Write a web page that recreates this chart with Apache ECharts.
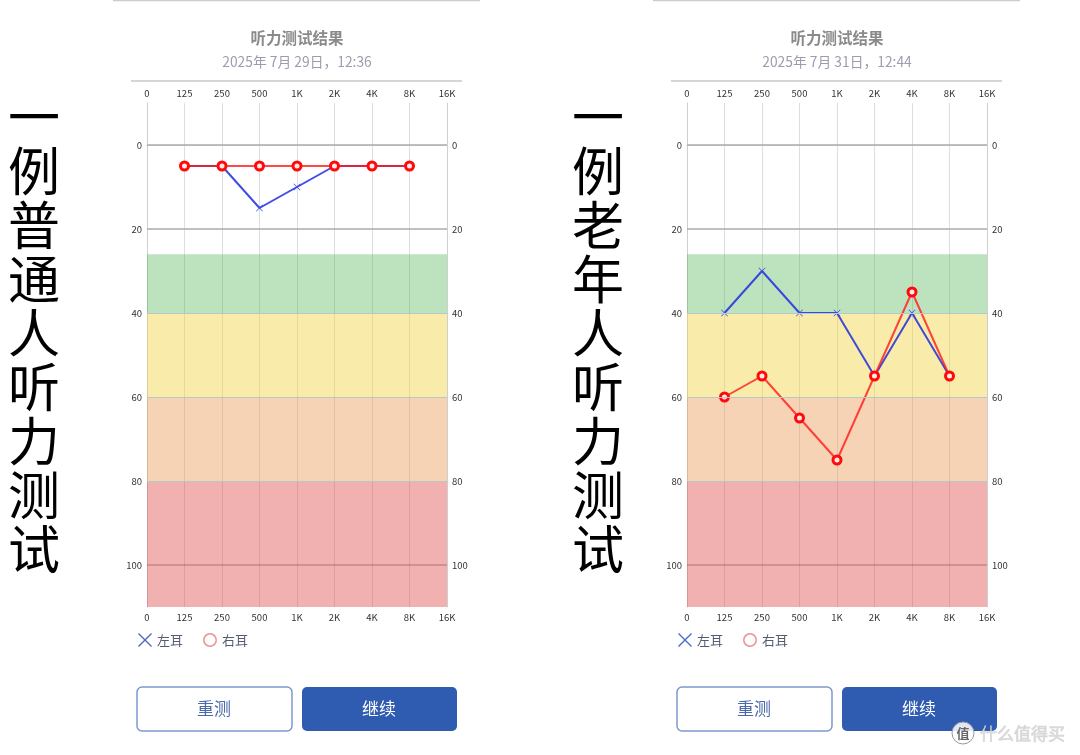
<!DOCTYPE html>
<html>
<head>
<meta charset="utf-8">
<script src="https://cdn.jsdelivr.net/npm/echarts@6/dist/echarts.min.js"></script>
<style>
html,body{margin:0;padding:0;background:#fff;}
#chart{width:1080px;height:755px;}
</style>
</head>
<body>
<div id="chart"></div>
<script>
// ---- data ----
var freqLabels = ['0', '125', '250', '500', '1K', '2K', '4K', '8K', '16K'];
var testFreqs = ['125', '250', '500', '1K', '2K', '4K', '8K'];
// panel A: ordinary person
var leftEarA = [5, 5, 15, 10, 5, 5, 5];
var rightEarA = [5, 5, 5, 5, 5, 5, 5];
// panel B: elderly person
var leftEarB = [40, 30, 40, 40, 55, 40, 55];
var rightEarB = [60, 55, 65, 75, 55, 35, 55];
var yTickValues = [0, 20, 40, 60, 80, 100];
var bandEdges = [26, 40, 60, 80, 110];
var titles = ['听力测试结果', '听力测试结果'];
var subtitles = ['2025年 7月 29日，12:36', '2025年 7月 31日，12:44'];
var sideLabels = ['一例普通人听力测试', '一例老年人听力测试'];
var legendNames = ['左耳', '右耳'];
var buttonTexts = ['重测', '继续'];

var FONT = '"Noto Sans CJK SC", "Noto Sans", sans-serif';
var XPATH = 'path://M0,7L7,0L50,43L93,0L100,7L57,50L100,93L93,100L50,57L7,100L0,93L43,50Z';
var RING = 'path://M50,0A50,50,0,1,1,49.9,0ZM50,11A39,39,0,1,0,50.1,11Z';

var bandColors = ['rgba(76,175,80,0.37)', 'rgba(240,208,50,0.42)', 'rgba(235,150,80,0.42)', 'rgba(222,75,75,0.43)'];

var panels = [
  {left: 147, left_ear: leftEarA, right_ear: rightEarA},
  {left: 687, left_ear: leftEarB, right_ear: rightEarB}
];

var grids = [], xAxes = [], yAxes = [], series = [], legends = [], graphics = [];

function pairs(arr) { return testFreqs.map(function (f, i) { return [f, arr[i]]; }); }

panels.forEach(function (p, k) {
  grids.push({left: p.left, top: 103, width: 300, height: 504, containLabel: false});
  var xb = {
    type: 'category', gridIndex: k, data: freqLabels, boundaryGap: false, position: 'bottom',
    axisLine: {show: true, lineStyle: {color: '#dcdcdc'}}, axisTick: {show: false},
    axisLabel: {interval: 0, fontSize: 9.5, color: '#333', margin: 6, fontFamily: FONT},
    splitLine: {show: true, lineStyle: {color: '#dedede', width: 1}}
  };
  var xt = JSON.parse(JSON.stringify(xb));
  xt.position = 'top'; xt.splitLine = {show: false}; xt.axisLabel.margin = 5;
  xAxes.push(xb, xt);
  var yl = {
    type: 'value', gridIndex: k, inverse: true, min: -10, max: 110, interval: 10, position: 'left',
    axisLine: {show: true, lineStyle: {color: '#cfcfcf'}}, axisTick: {show: false},
    splitLine: {show: false},
    axisLabel: {fontSize: 9.5, color: '#333', margin: 5, fontFamily: FONT,
      formatter: function (v) { return yTickValues.indexOf(v) >= 0 ? String(v) : ''; }}
  };
  var yr = JSON.parse(JSON.stringify(yl));
  yr.position = 'right';
  yr.axisLabel.formatter = yl.axisLabel.formatter;
  yAxes.push(yl, yr);

  var xi = k * 2, yi = k * 2;
  var areas = [];
  for (var b = 0; b < bandColors.length; b++) {
    areas.push([{yAxis: bandEdges[b], itemStyle: {color: bandColors[b]}}, {yAxis: bandEdges[b + 1]}]);
  }
  series.push({
    type: 'line', xAxisIndex: xi, yAxisIndex: yi, data: [], silent: true, z: 1,
    markArea: {silent: true, data: areas},
    markLine: {
      silent: true, symbol: 'none', label: {show: false}, animation: false,
      data: [
        {yAxis: 0, lineStyle: {color: '#ababab', width: 1.5, type: 'solid'}},
        {yAxis: 20, lineStyle: {color: '#ababab', width: 1.5, type: 'solid'}},
        {yAxis: 40, lineStyle: {color: '#b4c9cc', width: 1, type: 'solid'}},
        {yAxis: 60, lineStyle: {color: '#b4c9cc', width: 1, type: 'solid'}},
        {yAxis: 80, lineStyle: {color: '#b4c9cc', width: 1, type: 'solid'}},
        {yAxis: 100, lineStyle: {color: 'rgba(150,80,80,0.45)', width: 1.5, type: 'solid'}}
      ]
    }
  });
  series.push({
    name: legendNames[0], type: 'line', xAxisIndex: xi, yAxisIndex: yi, z: 3,
    data: pairs(p.left_ear), symbol: XPATH, symbolSize: 7, showAllSymbol: true,
    itemStyle: {color: '#3a4ee6'},
    lineStyle: {color: '#1e2ee0', width: 2, opacity: 0.85}
  });
  series.push({
    name: legendNames[1], type: 'line', xAxisIndex: xi, yAxisIndex: yi, z: 4,
    data: pairs(p.right_ear), symbol: 'circle', symbolSize: 8, showAllSymbol: true,
    itemStyle: {color: '#ffe8e8', borderColor: '#ff0a0a', borderWidth: 3},
    lineStyle: {color: '#ff1a1a', width: 2, opacity: 0.8}
  });

  legends.push({
    left: p.left - 14, top: 628, itemWidth: 14, itemHeight: 14, itemGap: 20, selectedMode: false,
    textStyle: {fontSize: 13, color: '#555b72', fontFamily: FONT},
    data: [
      {name: legendNames[0], icon: XPATH, itemStyle: {color: '#4a6cc8', borderWidth: 0}},
      {name: legendNames[1], icon: RING, itemStyle: {color: '#e89494', borderWidth: 0}}
    ]
  });

  var cx = p.left + 150;
  var off = k === 0 ? 0 : 540;
  graphics.push(
    {type: 'line', shape: {x1: 113 + off, y1: 0.5, x2: 480 + off, y2: 0.5}, style: {stroke: '#cccccc', lineWidth: 1.5}},
    {type: 'text', x: cx, y: 38, style: {text: titles[k], fontSize: 15.5, fontWeight: 'bold', fill: '#8a8a8a', fontFamily: FONT, textAlign: 'center', textVerticalAlign: 'middle'}},
    {type: 'text', x: cx, y: 62, style: {text: subtitles[k], fontSize: 13.8, fill: '#9b9daf', fontFamily: FONT, textAlign: 'center', textVerticalAlign: 'middle'}},
    {type: 'line', shape: {x1: p.left - 16, y1: 81, x2: p.left + 315, y2: 81}, style: {stroke: '#c8c8c8', lineWidth: 1.5}},
    {type: 'rect', shape: {x: p.left - 10, y: 687, width: 155, height: 44, r: 5}, style: {fill: '#fff', stroke: '#7f98cc', lineWidth: 1.5}},
    {type: 'text', x: p.left + 67, y: 709, style: {text: buttonTexts[0], fontSize: 17, fill: '#4a68ac', fontFamily: FONT, textAlign: 'center', textVerticalAlign: 'middle'}},
    {type: 'rect', shape: {x: p.left + 155, y: 687, width: 155, height: 44, r: 5}, style: {fill: '#2f5bb0'}},
    {type: 'text', x: p.left + 232, y: 709, style: {text: buttonTexts[1], fontSize: 17, fill: '#ffffff', fontFamily: FONT, textAlign: 'center', textVerticalAlign: 'middle'}},
    {type: 'text', x: k === 0 ? 34 : 598, y: 90, style: {text: sideLabels[k].split('').join('\n'), fontSize: 52, fontWeight: 'normal', lineHeight: 54, fill: '#000', fontFamily: FONT, textAlign: 'center', textVerticalAlign: 'top'}}
  );
});

// watermark
graphics.push(
  {type: 'circle', shape: {cx: 963, cy: 733, r: 11}, style: {fill: 'rgba(255,255,255,0.85)', stroke: '#999', lineWidth: 1}},
  {type: 'text', x: 963, y: 733, style: {text: '值', fontSize: 13, fontWeight: 'bold', fill: '#666', fontFamily: FONT, textAlign: 'center', textVerticalAlign: 'middle'}},
  {type: 'text', x: 980, y: 734, style: {text: '什么值得买', fontSize: 17, fill: 'rgba(215,215,215,0.95)', stroke: 'rgba(120,120,120,0.35)', lineWidth: 0.6, fontFamily: FONT, textAlign: 'left', textVerticalAlign: 'middle'}}
);

var chart = echarts.init(document.getElementById('chart'), null, {renderer: 'canvas'});
chart.setOption({
  animation: false,
  backgroundColor: '#fff',
  grid: grids,
  xAxis: xAxes,
  yAxis: yAxes,
  legend: legends,
  series: series,
  graphic: graphics
});
</script>
</body>
</html>
